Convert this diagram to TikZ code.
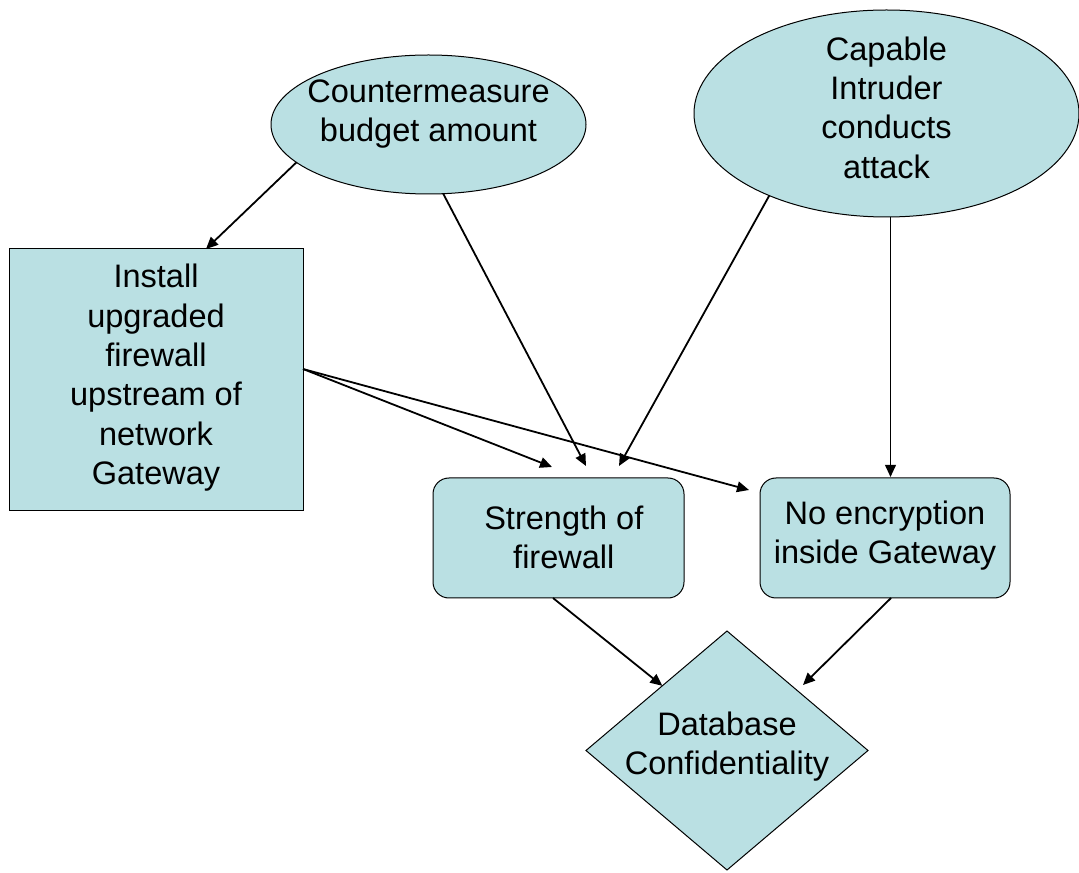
\documentclass[tikz,border=0pt]{standalone}
\usepackage{fontspec}
\setmainfont{Liberation Sans}
\usetikzlibrary{shapes.geometric,arrows.meta,calc}
\definecolor{shapefill}{RGB}{186,224,227}
\begin{document}
\begin{tikzpicture}[x=0.75pt,y=-0.75pt,
  every node/.style={inner sep=0pt,outer sep=0pt},
  shapebox/.style={draw=black,line width=0.75pt,fill=shapefill},
  ovalbox/.style={shapebox,ellipse},
  squarebox/.style={shapebox,rectangle},
  roundbox/.style={shapebox,rectangle,rounded corners=12pt},
  decisionbox/.style={shapebox,diamond},
  caption/.style={align=center,font=\fontsize{24.4}{29.5}\selectfont},
  link/.style={line width=1.35pt,-{Triangle[length=9pt,width=8pt]}}
]
\useasboundingbox (0,0) rectangle (1079,873);

% chance nodes
\node[ovalbox,minimum width=236.25pt,minimum height=104.25pt,
  label={[caption,yshift=7.75pt]center:{Countermeasure\\budget amount}}]
  (budget) at (428.5,124.5) {};
\node[ovalbox,minimum width=288.75pt,minimum height=155.25pt,
  label={[caption,yshift=4.5pt]center:{Capable\\Intruder\\conducts\\attack}}]
  (intruder) at (886.5,113.5) {};

% decision node
\node[squarebox,minimum width=220.5pt,minimum height=196.5pt,
  label={[caption,yshift=1.75pt]center:{Install\\upgraded\\firewall\\upstream of\\network\\Gateway}}]
  (install) at (156,380) {};

% intermediate nodes
\node[roundbox,minimum width=188.25pt,minimum height=90pt,
  label={[caption,xshift=4pt,yshift=0.25pt]center:{Strength of\\firewall}}]
  (strength) at (558.5,538) {};
\node[roundbox,minimum width=187.5pt,minimum height=90pt,
  label={[caption,yshift=1.75pt]center:{No encryption\\inside Gateway}}]
  (noenc) at (885,538) {};

% value node
\node[decisionbox,minimum width=211.5pt,minimum height=179.25pt,
  label={[caption,yshift=2.75pt]center:{Database\\Confidentiality}}]
  (dbconf) at (727,750.5) {};

% arrow ends
\coordinate (installout) at ($(install.east)+(0,-11)$);
\coordinate (strA) at ($(strength.north)+(-6.5,-11)$);
\coordinate (strB) at ($(strength.north)+(27.5,-12)$);
\coordinate (strC) at ($(strength.north)+(60.5,-12)$);
\coordinate (encA) at ($(noenc.west)+(-11,-48)$);
\coordinate (encB) at ($(noenc.north)+(5.5,-1)$);
\coordinate (strout) at ($(strength.south)+(-5.5,0)$);
\coordinate (encout) at ($(noenc.south)+(6,0)$);
\coordinate (dbA) at ($(dbconf.center)+(-64.7,-64.7)$);
\coordinate (dbB) at ($(dbconf.center)+(76,-65.5)$);

% connectors
\draw[link] (budget.196.6) -- ($(install.north)+(50,0)$);
\draw[link] (budget.282.7) -- (strB);
\draw[link] (intruder.215.2) -- (strC);
\draw[link] (encB |- intruder.south) -- (encB);
\draw[link] (installout) -- (strA);
\draw[link] (installout) -- (encA);
\draw[link] (strout) -- (dbA);
\draw[link] (encout) -- (dbB);
\end{tikzpicture}
\end{document}
